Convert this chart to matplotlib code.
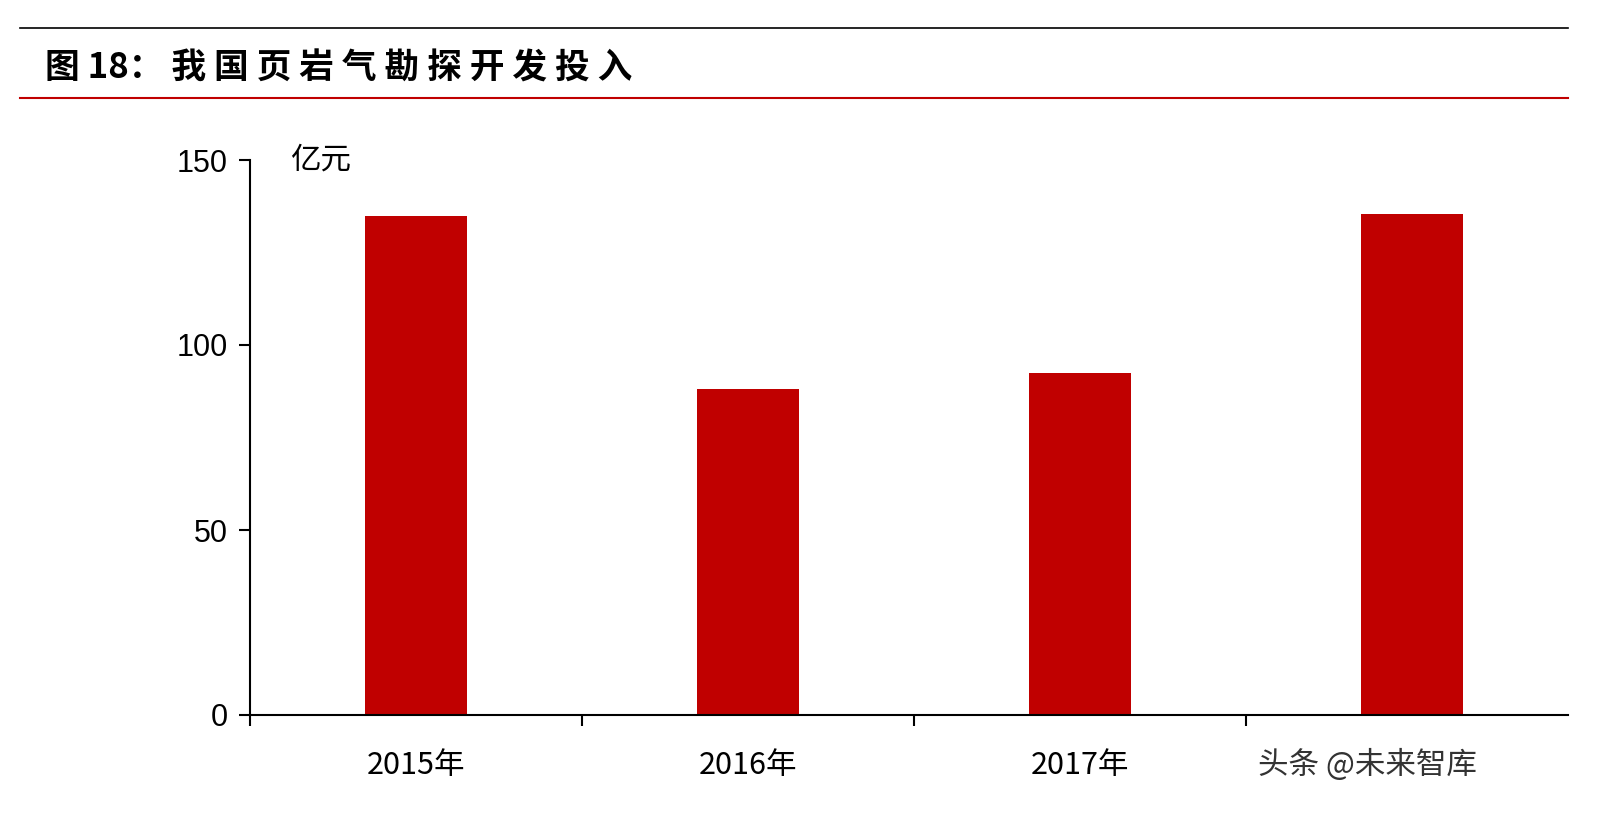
import matplotlib
matplotlib.use("Agg")
import matplotlib.pyplot as plt
import numpy as np

plt.rcParams['font.family'] = ['Noto Sans CJK SC', 'DejaVu Sans']

years = ["2015年", "2016年", "2017年", "2018年"]
invest = [135, 88, 92.5, 135.5]  # 亿元

fig = plt.figure(figsize=(16.14, 8.32), dpi=100)
W, H = 1614, 832

# header lines and title
fig.add_artist(plt.Line2D([20/W, 1568/W], [1-28/H, 1-28/H], color='black', lw=1.2))
fig.add_artist(plt.Line2D([20/W, 1568/W], [1-98/H, 1-98/H], color='#c00000', lw=1.5))
fig.text(45/W, 1-68/H, "图 18： 我 国 页 岩 气 勘 探 开 发 投 入", fontsize=25, fontweight='bold',
         va='center', ha='left')

ax = fig.add_axes([250/W, 1-715/H, (1568-250)/W, (715-160)/H])
x = np.arange(len(years))
ax.bar(x, invest, width=0.31, color='#c00000')
ax.set_xlim(-0.5, -0.5 + 1318/332)
ax.set_ylim(0, 150)
ax.set_yticks([0, 50, 100, 150])
ax.set_yticklabels(["0", "50", "100", "150"], fontfamily='Liberation Sans', fontsize=22)
ax.set_xticks(x)
ax.set_xticklabels(years, fontsize=22)
ax.tick_params(axis='x', length=0, pad=25)
ax.set_xticks(np.arange(len(years)) - 0.5, minor=True)
ax.tick_params(axis='x', which='minor', length=8, width=1.5, direction='out')
ax.tick_params(axis='y', length=8, width=1.5, direction='out', pad=8)
for s in ['top', 'right']:
    ax.spines[s].set_visible(False)
ax.spines['left'].set_linewidth(1.5)
ax.spines['bottom'].set_linewidth(1.5)
ax.text(0.03, 1.0, "亿元", transform=ax.transAxes, fontsize=22, va='center', ha='left')

# watermark covering the last label
fig.text(1258/W, 1-765/H, "头条 @未来智库", fontsize=22, color='#333333', va='center', ha='left',
         bbox=dict(facecolor='white', edgecolor='none', pad=6), zorder=10)

fig.savefig("out.png", dpi=100)
